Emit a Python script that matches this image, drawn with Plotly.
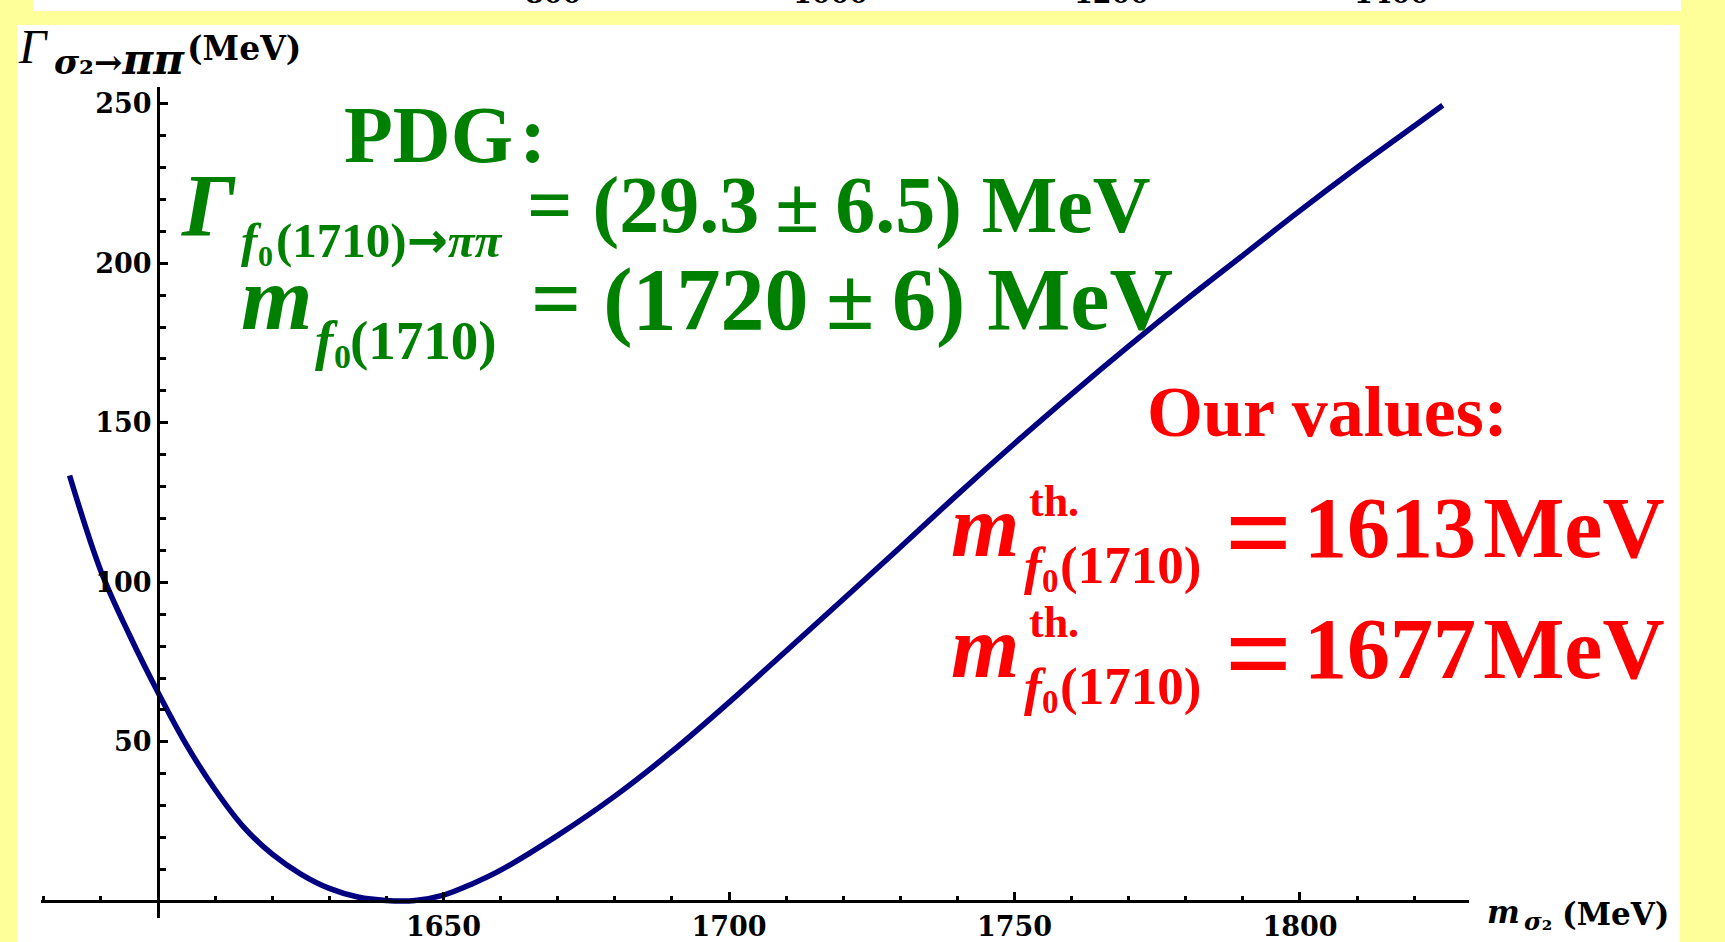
import plotly.graph_objects as go

W, H = 1725, 942

# ---- data ----
mass_sigma2 = [1584.5, 1590, 1595, 1600, 1605, 1610, 1615, 1620, 1625, 1630, 1635,
               1640, 1645, 1650, 1655, 1660, 1670, 1680, 1690, 1700, 1710, 1720,
               1730, 1740, 1750, 1760, 1770, 1780, 1790, 1800, 1810, 1820, 1825]
gamma_pipi = [133.5, 103.5, 83.5, 65.5, 49, 35, 23.3, 14.8, 8.6, 4.1, 1.4,
              0.3, 0.3, 2, 5.5, 9.8, 20.7, 33, 47, 62.4, 78.5, 94.7,
              111, 127.5, 143.5, 159, 174, 188.5, 202.5, 216.5, 230, 243, 249.5]

x_major = [1650, 1700, 1750, 1800]
y_major = [50, 100, 150, 200, 250]
x_range = [1579.5, 1829.6]
y_range = [-5.2, 255.3]
x_minor = list(range(1580, 1830, 10))
y_minor = list(range(10, 256, 10))
top_cut_labels = ["800", "1000", "1200", "1400"]
our_values = ["1613", "1677"]

GREEN = "#008000"
RED = "#FF0000"
NAVY = "#000080"
YELLOW = "#FFFF99"
TS = "\u2009"   # thin space
HS = "\u200a"   # hair space


def px(x):
    return x / W


def py(y):
    return 1 - y / H


def T(text, x, y, size, color, family="Liberation Serif", bold=True, italic=False, xanchor="left"):
    if italic:
        text = f"<i>{text}</i>"
    return dict(text=text, x=px(x), y=py(y), xref="paper", yref="paper",
                xanchor=xanchor, yanchor="middle", showarrow=False, borderpad=0,
                font=dict(family=family, size=size, color=color,
                          weight="bold" if bold else "normal"))


fig = go.Figure()
fig.add_trace(go.Scatter(x=mass_sigma2, y=gamma_pipi, mode="lines",
                         line=dict(color=NAVY, width=5.5, shape="spline"),
                         hoverinfo="skip", showlegend=False))

tickfont = dict(family="DejaVu Serif", size=27, color="black", weight="bold")

fig.update_layout(
    width=W, height=H,
    margin=dict(l=0, r=0, t=0, b=0),
    paper_bgcolor=YELLOW,
    plot_bgcolor="rgba(0,0,0,0)",
    showlegend=False,
    xaxis=dict(domain=[px(41), px(1469)], range=x_range, anchor="free",
               position=py(903.4), showline=True, linecolor="black", linewidth=3,
               ticks="inside", ticklen=8, tickwidth=2.5, tickcolor="black",
               tickmode="array", tickvals=x_major, ticktext=[str(v) for v in x_major],
               tickfont=tickfont, showgrid=False, zeroline=False,
               minor=dict(tickmode="array", tickvals=x_minor, ticks="inside",
                          ticklen=4, tickwidth=2.5, tickcolor="black", showgrid=False)),
    yaxis=dict(domain=[py(920), py(87)], range=y_range, anchor="free",
               position=px(158), showline=True, linecolor="black", linewidth=3,
               ticks="inside", ticklen=8, tickwidth=2.5, tickcolor="black",
               tickmode="array", tickvals=y_major, ticktext=[str(v) for v in y_major],
               tickfont=tickfont, showgrid=False, zeroline=False,
               minor=dict(tickmode="array", tickvals=y_minor, ticks="inside",
                          ticklen=6, tickwidth=2.5, tickcolor="black", showgrid=False)),
    shapes=[
        dict(type="rect", xref="paper", yref="paper", x0=px(17), x1=px(1680),
             y0=py(945), y1=py(25), fillcolor="white", line=dict(width=0), layer="below"),
        dict(type="rect", xref="paper", yref="paper", x0=px(33), x1=px(1681),
             y0=py(11), y1=py(-5), fillcolor="white", line=dict(width=0), layer="below"),
    ],
)

ann = []
# cut-off labels of the chart above
for lab, cx in zip(top_cut_labels, [553, 830, 1111, 1391]):
    ann.append(T(lab, cx, -7, 27, "black", family="DejaVu Serif", xanchor="center"))

# y axis title
ann.append(T("Γ", 17, 47, 48, "black", bold=False, italic=True))
ann.append(T("<i>σ</i>₂→<span style=\"font-size:42px\"><i>ππ</i></span>",
             53, 60, 34, "black", family="DejaVu Serif"))
ann.append(T("(MeV)", 186, 49, 33, "black", family="DejaVu Serif"))

# x axis title
ann.append(T("<i>m</i>", 1486, 914, 31, "black", family="DejaVu Serif"))
ann.append(T("<i>σ</i>₂", 1523, 923, 24, "black", family="DejaVu Serif"))
ann.append(T("(MeV)", 1561, 916, 31, "black", family="DejaVu Serif"))

# PDG block (green)
ARROW = "<span style=\"font-family:'DejaVu Sans'\">→</span>"
ann.append(T("PDG\u200a:", 343, 135, 80, GREEN))
ann.append(T("Γ", 180, 206, 88, GREEN, italic=True))
ann.append(T("f", 240, 241, 49, GREEN, italic=True))
ann.append(T("0", 257, 256, 30, GREEN))
ann.append(T(f"(1710){ARROW}<i>ππ</i>", 275, 241, 49, GREEN))
ann.append(T(f"= (29.3{TS}±{TS}6.5) MeV", 526, 206, 80, GREEN))

ann.append(T("m", 240, 299, 92, GREEN, italic=True))
ann.append(T("f", 314, 341, 55, GREEN, italic=True))
ann.append(T("0", 333, 357, 34, GREEN))
ann.append(T("(1710)", 349, 341, 55, GREEN))
ann.append(T(f"= (1720{TS}±{TS}6) MeV", 530, 300, 88, GREEN))

# Our values block (red)
ann.append(T("Our values:", 1146, 413, 72, RED))
for dy, val in zip([0, 121], our_values):
    ann.append(T("m", 950, 528 + dy, 88, RED, italic=True))
    ann.append(T("th.", 1028, 503 + dy, 44, RED))
    ann.append(T("f", 1023, 567 + dy, 53, RED, italic=True))
    ann.append(T("0", 1041, 582 + dy, 33, RED))
    ann.append(T("(1710)", 1059, 567 + dy, 53, RED))
    ann.append(T("=", 1224, 534 + dy, 118, RED))
    ann.append(T(f"{val}{HS}MeV", 1303, 529 + dy, 86, RED))

fig.update_layout(annotations=ann)
fig.write_html("out.html", config={"displayModeBar": False},
               post_script="document.body.style.margin='0';document.body.style.overflow='hidden';")
